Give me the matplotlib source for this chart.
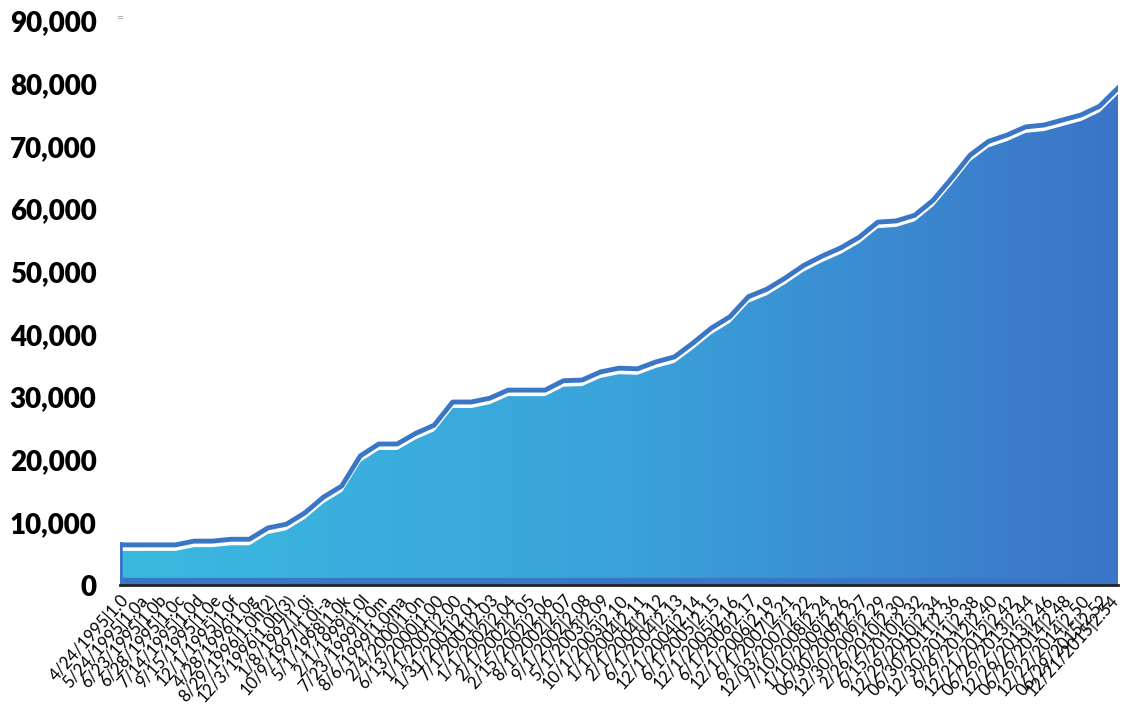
import matplotlib.pyplot as plt
import numpy as np
import matplotlib.transforms as mtransforms
from matplotlib.colors import LinearSegmentedColormap

# release labels (date|version) and running totals
dates = ["4/24/1995", "5/24/1995", "6/23/1995", "6/28/1995", "7/14/1995", "9/15/1995",
         "12/1/1995", "4/28/1996", "8/29/1996", "12/3/1996", "1/8/1997", "10/9/1997",
         "5/1/1998", "2/1/1999", "7/23/1999", "8/6/1999", "2/4/2000", "6/13/2000",
         "1/1/2001", "1/31/2001", "7/1/2001", "1/1/2002", "2/1/2002", "2/15/2002",
         "8/1/2002", "9/1/2002", "5/1/2003", "10/1/2003", "1/1/2004", "2/1/2004",
         "6/1/2004", "12/1/2004", "6/1/2005", "12/1/2005", "6/1/2006", "12/1/2006",
         "6/1/2007", "12/03/2007", "7/10/2008", "1/10/2009", "06/30/2009", "12/30/2009",
         "2/26/2010", "6/15/2010", "12/29/2010", "06/30/2011", "12/30/2011", "6/29/2012",
         "12/21/2012", "06/26/2013", "12/26/2013", "06/26/2014", "12/22/2014",
         "06/29/2015", "12/21/2015"]
versions = ["1.0", "1.0a", "1.0b", "1.0c", "1.0d", "1.0e", "1.0f", "1.0g", "1.0h(2)",
            "1.0h(3)", "1.0i", "1.0i-a", "1.0k", "1.0l", "1.0m", "1.0ma", "1.0n", "1.00",
            "2.00", "2.01", "2.03", "2.04", "2.05", "2.06", "2.07", "2.08", "2.09", "2.10",
            "2.11", "2.12", "2.13", "2.14", "2.15", "2.16", "2.17", "2.19", "2.21", "2.22",
            "2.24", "2.26", "2.27", "2.29", "2.30", "2.32", "2.34", "2.36", "2.38", "2.40",
            "2.42", "2.44", "2.46", "2.48", "2.50", "2.52", "2.54"]
totals = [6400, 6400, 6400, 6400, 7000, 7000, 7300, 7300, 9100, 9700, 11500, 14000,
          15800, 20600, 22500, 22500, 24200, 25500, 29200, 29200, 29800, 31100, 31100,
          31100, 32600, 32700, 34000, 34600, 34500, 35600, 36400, 38600, 41000, 42800,
          46000, 47200, 49000, 51000, 52500, 53800, 55500, 57900, 58100, 59000, 61400,
          64900, 68600, 70800, 71800, 73100, 73400, 74200, 75000, 76400, 79300]

labels = [f"{d}|{v}" for d, v in zip(dates, versions)]
n = len(totals)
x = np.arange(n)

fig = plt.figure(figsize=(11.28, 7.13), dpi=100)
ax = fig.add_axes([120 / 1128, 1 - 585 / 713, 998 / 1128, (585 - 21) / 713])

line_col = "#3A76C6"
grad = LinearSegmentedColormap.from_list("g", ["#3BB9E0", "#3AA3DA", "#3C74C8"])

# area sits a few pixels under the outline
down6 = ax.transData + mtransforms.ScaledTranslation(0, -6 / 100, fig.dpi_scale_trans)
down3 = ax.transData + mtransforms.ScaledTranslation(0, -3 / 100, fig.dpi_scale_trans)

poly = ax.fill_between(x, totals, 0, transform=down6, color="none", lw=0)
img = ax.imshow(np.linspace(0, 1, 256).reshape(1, -1), cmap=grad, aspect="auto",
                extent=[0, n - 1, 0, 90000], zorder=1)
img.set_clip_path(poly.get_paths()[0], transform=down6)

ax.plot(x, totals, color="white", lw=2.5, transform=down3, zorder=3)
ax.plot(x, totals, color=line_col, lw=3.5, zorder=4, solid_joinstyle="round")
ax.plot([0, 0], [0, totals[0]], color=line_col, lw=4, zorder=4)
ax.axhline(500, color=line_col, lw=6, zorder=4)

ax.set_xlim(0, n - 1)
ax.set_ylim(0, 90000)
ax.set_yticks(np.arange(0, 90001, 10000))
ax.set_yticklabels([f"{v:,}" for v in range(0, 90001, 10000)],
                   fontsize=20, fontweight="heavy", family="Lato")
ax.set_xticks(x)
ax.set_xticklabels(labels, rotation=48, ha="right", rotation_mode="anchor",
                   fontsize=12, family="Lato")
ax.tick_params(axis="both", length=0)
ax.tick_params(axis="x", pad=5)
ax.tick_params(axis="y", pad=17)
for s in ["top", "right", "left"]:
    ax.spines[s].set_visible(False)
ax.spines["bottom"].set_color("#222222")
ax.spines["bottom"].set_linewidth(2)
ax.spines["bottom"].set_zorder(5)

# nudge the last label so it stays inside the canvas
last = ax.get_xticklabels()[-1]
last.set_transform(last.get_transform() +
                   mtransforms.ScaledTranslation(-8 / 100, 0, fig.dpi_scale_trans))

fig.text(116 / 1128, 1 - 18 / 713, "=", fontsize=6, color="#999999", va="center")

fig.savefig("out.png", dpi=100)
